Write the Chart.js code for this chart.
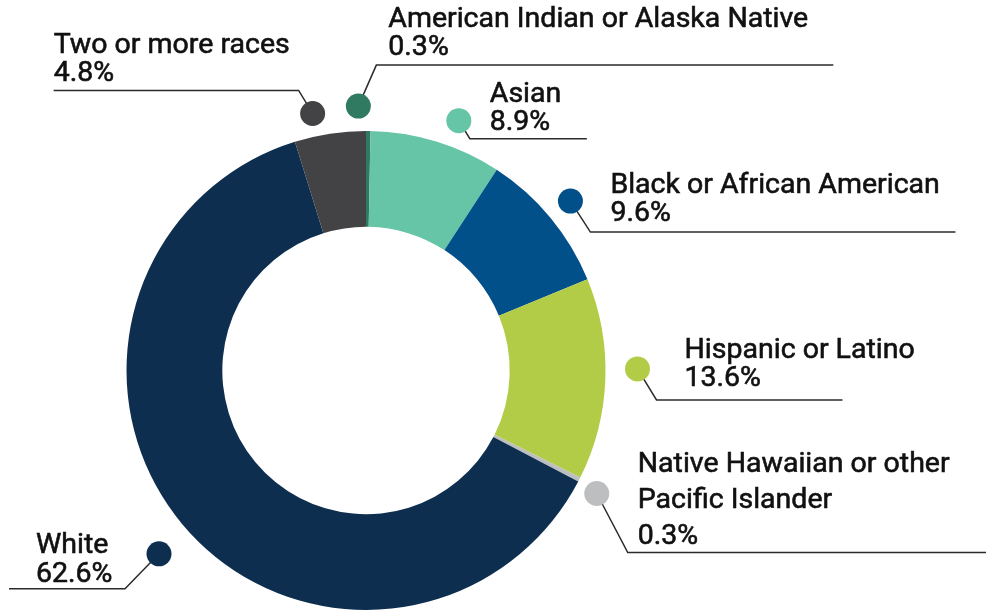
<!DOCTYPE html>
<html>
<head>
<meta charset="utf-8">
<script src="https://cdn.jsdelivr.net/npm/chart.js@4.4.1/dist/chart.umd.min.js"></script>
<style>
  html, body { margin: 0; padding: 0; background: #fff; }
  #wrap { width: 986px; height: 611px; position: relative; }
</style>
</head>
<body>
<div id="wrap"><canvas id="raceChart"></canvas></div>
<script>
const categories = [
    'American Indian or Alaska Native',
    'Asian',
    'Black or African American',
    'Hispanic or Latino',
    'Native Hawaiian or other Pacific Islander',
    'White',
    'Two or more races'
];
const shares = [0.3, 8.9, 9.6, 13.6, 0.3, 62.6, 4.8];
const colors = ['#2f7a60', '#66c5a6', '#02508a', '#b3cc48', '#bcbec0', '#0e2e4f', '#434345'];
// how each label is broken into lines
const labelLines = [
    ['American Indian or Alaska Native'],
    ['Asian'],
    ['Black or African American'],
    ['Hispanic or Latino'],
    ['Native Hawaiian or other', 'Pacific Islander'],
    ['White'],
    ['Two or more races']
];

// callout placement relative to the dot (angle tweak in degrees, text/underline offsets in px)
const callouts = [
    { da: -2.2, r: 25, tx: 30,   ty: -79, gap: 28, ly: -41, lx1: 18,   lx2: 475 },
    { da: 3.3,  r: 27, tx: 31,   ty: -19, gap: 28, ly: 18,  lx1: 11,   lx2: 128 },
    { da: 0,    r: 26, tx: 40,   ty: -8,  gap: 28, ly: 31,  lx1: 20,   lx2: 385 },
    { da: -2.4, r: 32, tx: 47,   ty: -11, gap: 28, ly: 31,  lx1: 19,   lx2: 205 },
    { da: 1,    r: 22, tx: 41,   ty: -22, gap: 36, ly: 59,  lx1: 31,   lx2: 400 },
    { da: -1.7, r: 37, tx: -123, ty: -1,  gap: 29, ly: 35,  lx1: -34,  lx2: -150 },
    { da: -3.1, r: 23, tx: -259, ty: -60, gap: 28, ly: -23, lx1: -14,  lx2: -259 }
];

const calloutPlugin = {
    id: 'callouts',
    afterDraw(chart) {
        const ctx = chart.ctx;
        const arcs = chart.getDatasetMeta(0).data;
        ctx.save();
        arcs.forEach((arc, i) => {
            const c = callouts[i];
            const mid = (arc.startAngle + arc.endAngle) / 2 + c.da * Math.PI / 180;
            const rr = arc.outerRadius + c.r;
            const dx = arc.x + Math.cos(mid) * rr;
            const dy = arc.y + Math.sin(mid) * rr;

            // leader line
            ctx.strokeStyle = '#2b2b2b';
            ctx.lineWidth = 1.5;
            ctx.beginPath();
            ctx.moveTo(dx, dy);
            ctx.lineTo(dx + c.lx1, dy + c.ly);
            ctx.lineTo(dx + c.lx2, dy + c.ly);
            ctx.stroke();

            // dot
            ctx.fillStyle = colors[i];
            ctx.beginPath();
            ctx.arc(dx, dy, 12.5, 0, Math.PI * 2);
            ctx.fill();

            // text (thin stroke gives a medium-ish weight)
            ctx.fillStyle = '#111111';
            ctx.strokeStyle = '#111111';
            ctx.lineWidth = 0.6;
            ctx.font = '28.5px Roboto';
            ctx.textAlign = 'left';
            ctx.textBaseline = 'alphabetic';
            const lines = labelLines[i].concat([shares[i].toFixed(1) + '%']);
            lines.forEach((t, k) => {
                ctx.fillText(t, dx + c.tx, dy + c.ty + k * c.gap);
                ctx.strokeText(t, dx + c.tx, dy + c.ty + k * c.gap);
            });
        });
        ctx.restore();
    }
};

new Chart(document.getElementById('raceChart'), {
    type: 'doughnut',
    data: {
        labels: categories,
        datasets: [{
            data: shares,
            backgroundColor: colors,
            borderWidth: 0
        }]
    },
    options: {
        responsive: true,
        maintainAspectRatio: false,
        animation: false,
        cutout: '60%',
        layout: { padding: { top: 131, bottom: 1, left: 126, right: 380 } },
        plugins: {
            legend: { display: false },
            tooltip: { enabled: false }
        }
    },
    plugins: [calloutPlugin]
});
</script>
</body>
</html>
